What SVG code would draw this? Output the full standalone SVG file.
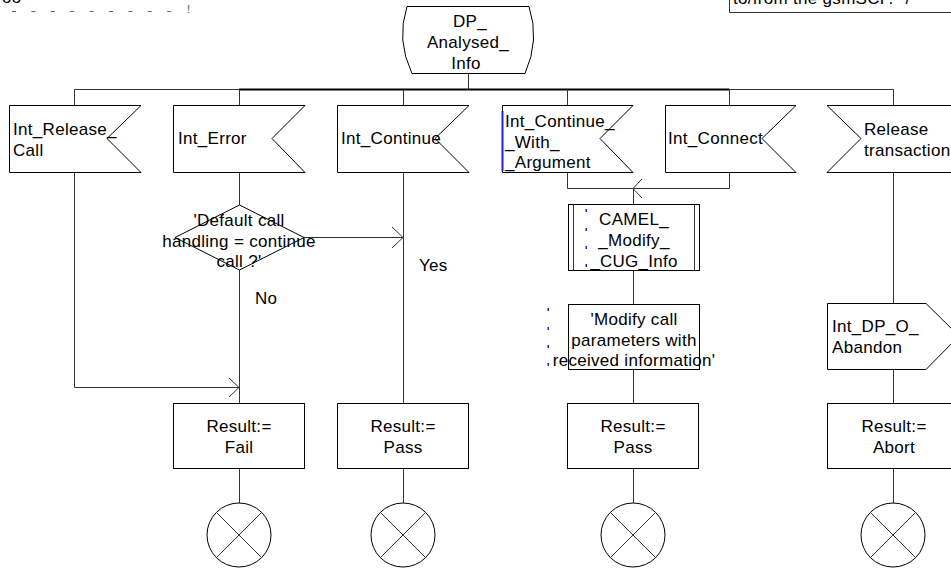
<svg xmlns="http://www.w3.org/2000/svg" width="951" height="572" viewBox="0 0 951 572">
<style>
  .shape { fill: #fff; stroke: #000; stroke-width: 1; }
  .line { fill: none; stroke: #333; stroke-width: 1; }
  .bus { fill: none; stroke: #000; stroke-width: 2; }
  .t { font-family: "Liberation Sans", Arial, sans-serif; font-size: 17px; letter-spacing: 0.3px; fill: #000; }
  .c { text-anchor: middle; }
  .blue { fill: #2020e0; }
</style>
<rect x="0" y="0" width="951" height="572" fill="#fff"/>

<!-- fragments at top edge -->
<g id="topleft-fragment">
  <text class="t" x="2" y="3">oo</text>
  <line x1="12" y1="11.5" x2="174" y2="11.5" stroke="#666" stroke-width="1" stroke-dasharray="4 15.4"/>
  <text x="187" y="12.5" style="font-family:'Liberation Sans',Arial,sans-serif;font-size:11px;fill:#555">!</text>
</g>
<g id="comment-box">
  <path d="M729.5,-20 V12.5 H960" class="line" stroke="#000"/>
  <text class="t" x="733" y="4">to/from the gsmSCF. */</text>
</g>

<!-- connectors -->
<g id="connectors">
  <line class="line" x1="468.5" y1="73" x2="468.5" y2="89"/>
  <line class="line" x1="74.5" y1="89.5" x2="239" y2="89.5"/>
  <line class="bus" x1="239" y1="89.5" x2="729.5" y2="89.5"/>
  <line class="line" x1="729.5" y1="89.5" x2="893.5" y2="89.5"/>
  <line class="line" x1="74.5" y1="89.5" x2="74.5" y2="105"/>
  <line class="line" x1="239.5" y1="89.5" x2="239.5" y2="105"/>
  <line class="line" x1="403.5" y1="89.5" x2="403.5" y2="105"/>
  <line class="line" x1="567.5" y1="89.5" x2="567.5" y2="105"/>
  <line class="line" x1="729.5" y1="89.5" x2="729.5" y2="105"/>
  <line class="line" x1="893.5" y1="89.5" x2="893.5" y2="105"/>

  <!-- Int_Release_Call to Fail -->
  <polyline class="line" points="74.5,172 74.5,387.5 239,387.5"/>
  <polyline class="line" points="229,378 239,387.5 229,397"/>
  <!-- Int_Error to decision -->
  <line class="line" x1="239.5" y1="172" x2="239.5" y2="205"/>
  <line class="line" x1="239.5" y1="270" x2="239.5" y2="403"/>
  <!-- Yes branch -->
  <line class="line" x1="304" y1="237.5" x2="403" y2="237.5"/>
  <polyline class="line" points="392,227 403,237.5 392,248"/>
  <!-- Int_Continue to Pass -->
  <line class="line" x1="403.5" y1="172" x2="403.5" y2="403" stroke-width="1.3"/>
  <!-- merge Int_Continue_With_Argument / Int_Connect -->
  <polyline class="line" points="567.5,172 567.5,188.5 729.5,188.5 729.5,172"/>
  <polyline class="line" points="642,179 633,188.5 642,198"/>
  <line class="line" x1="633.5" y1="188.5" x2="633.5" y2="204"/>
  <line class="line" x1="633.5" y1="271" x2="633.5" y2="304"/>
  <line class="line" x1="633.5" y1="370" x2="633.5" y2="403"/>
  <!-- Release transaction path -->
  <line class="line" x1="893.5" y1="172" x2="893.5" y2="303"/>
  <line class="line" x1="893.5" y1="369" x2="893.5" y2="403"/>
  <!-- result boxes to stops -->
  <line class="line" x1="239.5" y1="469" x2="239.5" y2="503"/>
  <line class="line" x1="403.5" y1="469" x2="403.5" y2="503"/>
  <line class="line" x1="633.5" y1="469" x2="633.5" y2="503"/>
  <line class="line" x1="893.5" y1="469" x2="893.5" y2="503"/>
</g>

<!-- state -->
<g id="state-dp-analysed-info">
  <path class="shape" d="M407,6.5 H529 Q540,40 525,73.5 H412 Q396,40 407,6.5 Z"/>
  <text class="t c" x="470" y="27">DP_</text>
  <text class="t c" x="468" y="48">Analysed_</text>
  <text class="t c" x="466" y="69">Info</text>
</g>

<!-- inputs -->
<g id="input-int-release-call">
  <path class="shape" d="M9.5,105.5 H141 L107,138.5 L141,172.5 H9.5 Z"/>
  <text class="t" x="13" y="135">Int_Release_</text>
  <text class="t" x="13" y="156">Call</text>
</g>
<g id="input-int-error">
  <path class="shape" d="M173.5,105.5 H305 L272,138.5 L305,172.5 H173.5 Z"/>
  <text class="t" x="178" y="144">Int_Error</text>
</g>
<g id="input-int-continue">
  <path class="shape" d="M337.5,105.5 H469 L435,138.5 L469,172.5 H337.5 Z"/>
  <text class="t" x="341" y="144">Int_Continue</text>
</g>
<g id="input-int-continue-with-argument">
  <path class="shape" d="M502.5,105.5 H633 L600,138.5 L633,172.5 H502.5 Z"/>
  <line x1="502.5" y1="111" x2="502.5" y2="171" stroke="#2020e0" stroke-width="2"/>
  <text class="t" x="505" y="127">Int_Continue_</text>
  <text class="t" x="505" y="148">_With_</text>
  <text class="t" x="505" y="168">_Argument</text>
</g>
<g id="input-int-connect">
  <path class="shape" d="M665.5,105.5 H796 L762,138.5 L796,172.5 H665.5 Z"/>
  <text class="t" x="668" y="144">Int_Connect</text>
</g>
<g id="input-release-transaction">
  <path class="shape" d="M827,105.5 H962 V172.5 H827 L861,138.5 Z"/>
  <text class="t" x="864" y="135">Release</text>
  <text class="t" x="864" y="156">transaction</text>
</g>

<!-- decision -->
<g id="decision-default-call-handling">
  <path class="shape" d="M239.5,205 L304,237.5 L239.5,270 L175,237.5 Z"/>
  <text class="t c" x="239" y="226">'Default call</text>
  <text class="t c" x="239" y="247">handling = continue</text>
  <text class="t c" x="239" y="267">call ?'</text>
</g>
<g id="label-yes"><text class="t" x="419" y="271">Yes</text></g>
<g id="label-no"><text class="t" x="255" y="304">No</text></g>

<!-- procedure call -->
<g id="proc-camel-modify-cug-info">
  <rect class="shape" x="568.5" y="204.5" width="131" height="66"/>
  <line class="line" x1="573.5" y1="204.5" x2="573.5" y2="270.5" stroke="#000"/>
  <line class="line" x1="694.5" y1="204.5" x2="694.5" y2="270.5" stroke="#000"/>
  <text class="t c" x="634" y="225">CAMEL_</text>
  <text class="t c" x="634" y="246">_Modify_</text>
  <text class="t c" x="634" y="267">_CUG_Info</text>
  <rect class="blue" x="585.5" y="209" width="1.5" height="3"/>
  <rect class="blue" x="585.5" y="228" width="1.5" height="3"/>
  <rect class="blue" x="585.5" y="246" width="1.5" height="3"/>
  <rect class="blue" x="585.5" y="264" width="1.5" height="3"/>
</g>

<!-- task -->
<g id="task-modify-call-parameters">
  <rect class="shape" x="568.5" y="304.5" width="131" height="65"/>
  <text class="t c" x="634" y="325">'Modify call</text>
  <text class="t c" x="634" y="346">parameters with</text>
  <text class="t c" x="634" y="366">received information'</text>
  <rect class="blue" x="547.5" y="308" width="1.5" height="3"/>
  <rect class="blue" x="547.5" y="327" width="1.5" height="3"/>
  <rect class="blue" x="547.5" y="345" width="1.5" height="3"/>
  <rect class="blue" x="547.5" y="363" width="1.5" height="3"/>
</g>

<!-- output -->
<g id="output-int-dp-o-abandon">
  <path class="shape" d="M827.5,303.5 H926 L959,336 L926,369.5 H827.5 Z"/>
  <text class="t" x="832" y="332">Int_DP_O_</text>
  <text class="t" x="832" y="353">Abandon</text>
</g>

<!-- result tasks -->
<g id="task-result-fail">
  <rect class="shape" x="173.5" y="403.5" width="131" height="65"/>
  <text class="t c" x="239" y="432">Result:=</text>
  <text class="t c" x="239" y="453">Fail</text>
</g>
<g id="task-result-pass-1">
  <rect class="shape" x="337.5" y="403.5" width="131" height="65"/>
  <text class="t c" x="403" y="432">Result:=</text>
  <text class="t c" x="403" y="453">Pass</text>
</g>
<g id="task-result-pass-2">
  <rect class="shape" x="567.5" y="403.5" width="131" height="65"/>
  <text class="t c" x="633" y="432">Result:=</text>
  <text class="t c" x="633" y="453">Pass</text>
</g>
<g id="task-result-abort">
  <rect class="shape" x="827.5" y="403.5" width="132" height="65"/>
  <text class="t c" x="894" y="432">Result:=</text>
  <text class="t c" x="894" y="453">Abort</text>
</g>

<!-- stops -->
<g id="stop-1">
  <circle class="shape" cx="239" cy="535" r="32"/>
  <path class="line" stroke="#000" d="M216.4,512.4 L261.6,557.6 M261.6,512.4 L216.4,557.6"/>
</g>
<g id="stop-2">
  <circle class="shape" cx="403" cy="535" r="32"/>
  <path class="line" stroke="#000" d="M380.4,512.4 L425.6,557.6 M425.6,512.4 L380.4,557.6"/>
</g>
<g id="stop-3">
  <circle class="shape" cx="633" cy="535" r="32"/>
  <path class="line" stroke="#000" d="M610.4,512.4 L655.6,557.6 M655.6,512.4 L610.4,557.6"/>
</g>
<g id="stop-4">
  <circle class="shape" cx="893" cy="535" r="32"/>
  <path class="line" stroke="#000" d="M870.4,512.4 L915.6,557.6 M915.6,512.4 L870.4,557.6"/>
</g>
</svg>
